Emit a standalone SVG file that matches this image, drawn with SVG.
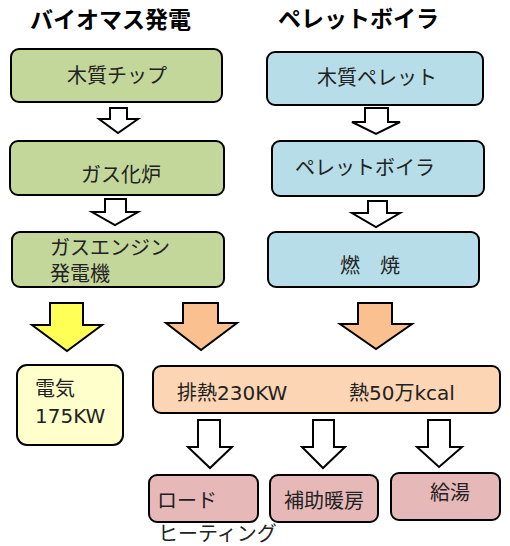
<svg xmlns="http://www.w3.org/2000/svg" width="510" height="546" viewBox="0 0 510 546">
<style>
  text { font-family: "Noto Sans CJK JP", "Noto Sans", sans-serif; fill: #222; }
  .t { font-size: 20px; }
  .lat { font-family: "DejaVu Sans", "Noto Sans CJK JP", sans-serif; }
  .title { font-size: 23px; font-weight: bold; fill: #000; }
  .box { stroke: #000; stroke-width: 2; }
  .g { fill: #C4D79B; }
  .b { fill: #B7DEE8; }
  .y { fill: #FFFFCC; }
  .o { fill: #FCD5B4; }
  .p { fill: #E6B9B8; }
  .arr { stroke: #000; stroke-width: 2; stroke-linejoin: miter; }
</style>
<rect width="510" height="546" fill="#fff"/>
<text class="title" x="30" y="28">バイオマス発電</text>
<text class="title" x="278" y="27">ペレットボイラ</text>

<g id="n1"><rect class="box g" x="11" y="49" width="211" height="53" rx="8"/><text class="t" x="117" y="83" text-anchor="middle">木質チップ</text></g>
<g id="n2"><rect class="box g" x="10" y="141" width="214" height="54" rx="8"/><text class="t" x="121" y="182" text-anchor="middle">ガス化炉</text></g>
<g id="n3"><rect class="box g" x="12" y="232" width="212" height="55" rx="8"/><text class="t" x="50" y="255">ガスエンジン</text><text class="t" x="50" y="281">発電機</text></g>

<g id="n4"><rect class="box b" x="267" y="52" width="216" height="53" rx="8"/><text class="t" x="377" y="85" text-anchor="middle">木質ペレット</text></g>
<g id="n5"><rect class="box b" x="272" y="141" width="212" height="55" rx="8"/><text class="t" x="295" y="175">ペレットボイラ</text></g>
<g id="n6"><rect class="box b" x="268" y="232" width="211" height="55" rx="8"/><text class="t" x="370" y="273" text-anchor="middle">燃　焼</text></g>

<g id="n7"><rect class="box y" x="17" y="365" width="106" height="80" rx="10"/><text class="t" x="35" y="396">電気</text><text class="t lat" x="35" y="423">175KW</text></g>
<g id="n8"><rect class="box o" x="153" y="366" width="347" height="47" rx="8"/><text class="t lat" x="177" y="400">排熱230KW</text><text class="t lat" x="349" y="400">熱50万kcal</text></g>

<g id="n9"><rect class="box p" x="149" y="475" width="109" height="47" rx="8"/><text class="t" x="157" y="508">ロード</text></g>
<text class="t" x="158" y="541">ヒーティング</text>
<g id="n10"><rect class="box p" x="270" y="475" width="108" height="47" rx="8"/><text class="t" x="284" y="508">補助暖房</text></g>
<g id="n11"><rect class="box p" x="391" y="473" width="109" height="47" rx="8"/><text class="t" x="450" y="500" text-anchor="middle">給湯</text></g>

<g id="connectors">
  <polygon class="arr" fill="#fff" points="110,108 127,108 127,119 138,119 118,133 99,119 110,119"/>
  <polygon class="arr" fill="#fff" points="105,199 126,199 126,212 138,212 115,225 92,212 105,212"/>
  <polygon class="arr" fill="#fff" points="365,108 388,108 388,122 400,122 376,134 352,122 365,122"/>
  <polygon class="arr" fill="#fff" points="368,201 387,201 387,213 400,213 376,227 352,213 368,213"/>
  <polygon class="arr" fill="#FFFF55" points="50,303 83,303 83,325 102,325 67,351 32,325 50,325"/>
  <polygon class="arr" fill="#FAC090" points="183,303 218,303 218,323 237,323 201,350 166,323 183,323"/>
  <polygon class="arr" fill="#FAC090" points="358,303 392,303 392,324 412,324 376,349 340,324 358,324"/>
  <polygon class="arr" fill="#fff" points="198,420 220,420 220,447 232,447 210,468 188,447 198,447"/>
  <polygon class="arr" fill="#fff" points="313,420 334,420 334,447 345,447 323,468 302,447 313,447"/>
  <polygon class="arr" fill="#fff" points="428,420 450,420 450,447 462,447 439,467 417,447 428,447"/>
</g>
</svg>
